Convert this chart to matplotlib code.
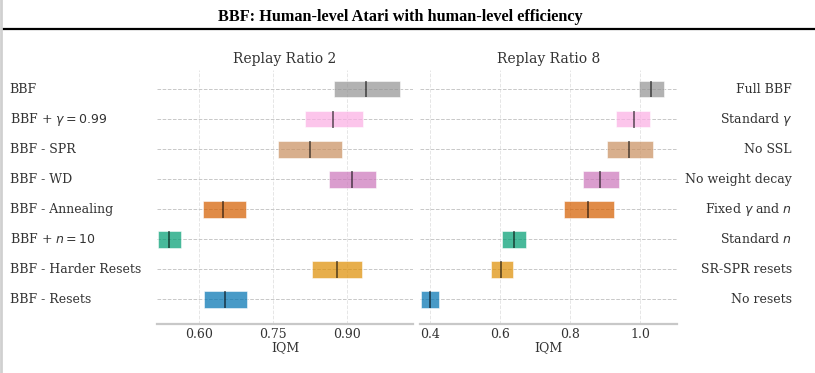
import matplotlib
matplotlib.use("Agg")
import matplotlib.pyplot as plt
import matplotlib.transforms as mtransforms
import numpy as np

# left panel: replay ratio 2
labels_rr2 = ["BBF", r"BBF + $\gamma = 0.99$", "BBF - SPR", "BBF - WD",
              "BBF - Annealing", r"BBF + $n = 10$", "BBF - Harder Resets", "BBF - Resets"]
rr2_lo = [0.875, 0.816, 0.761, 0.864, 0.609, 0.517, 0.830, 0.611]
rr2_hi = [1.009, 0.933, 0.890, 0.959, 0.695, 0.563, 0.930, 0.697]
rr2_iqm = [0.939, 0.872, 0.826, 0.910, 0.649, 0.540, 0.880, 0.652]
rr2_ticks = [0.60, 0.75, 0.90]

# right panel: replay ratio 8
labels_rr8 = ["Full BBF", r"Standard $\gamma$", "No SSL", "No weight decay",
              r"Fixed $\gamma$ and $n$", r"Standard $n$", "SR-SPR resets", "No resets"]
rr8_lo = [0.998, 0.932, 0.906, 0.837, 0.781, 0.606, 0.573, 0.374]
rr8_hi = [1.068, 1.030, 1.037, 0.939, 0.927, 0.674, 0.636, 0.424]
rr8_iqm = [1.032, 0.982, 0.968, 0.885, 0.851, 0.639, 0.603, 0.398]
rr8_ticks = [0.4, 0.6, 0.8, 1.0]

colors = ["#949494", "#fbafe4", "#ca9161", "#cc78bc",
          "#d55e00", "#029e73", "#de8f05", "#0173b2"]

plt.rcParams["font.family"] = "DejaVu Serif"

fig = plt.figure(figsize=(8.15, 3.73), dpi=100)
W, H = 815, 373

# page header
fig.text(400 / W, 1 - 17 / H, "BBF: Human-level Atari with human-level efficiency",
         ha="center", va="center", fontsize=11.7, fontweight="bold",
         family="Liberation Serif")
fig.add_artist(plt.Line2D([3 / W, 1], [1 - 29 / H, 1 - 29 / H], color="black", lw=1.6))
fig.add_artist(plt.Line2D([1 / W, 1 / W], [0, 1], color="#d0d0d0", lw=2))


def panel(rect, title, lo, hi, iqm, ticks, xlim):
    ax = fig.add_axes(rect)
    y = np.arange(len(lo))
    h = 0.55
    lo = np.array(lo)
    hi = np.array(hi)
    ax.barh(y, hi - lo, left=lo, height=h, color=colors, alpha=0.72,
            edgecolor="white", linewidth=0.5, zorder=3)
    ax.vlines(iqm, y - 7.5 * h / 16 * 1.07, y + 7.5 * h / 16 * 1.07,
              color="k", alpha=0.6, lw=1.2, zorder=4)
    for yy in y:
        ax.axhline(yy, color="#c8c8c8", ls="--", lw=0.7, zorder=1)
    for t in ticks:
        ax.axvline(t, color="#e6e6e6", ls="--", lw=0.7, zorder=0)
    ax.set_xlim(*xlim)
    ax.set_ylim(7.82, -0.64)
    ax.set_yticks([])
    ax.set_xticks(ticks)
    ax.set_xticklabels([("%.2f" if len(ticks) == 3 else "%.1f") % t for t in ticks])
    ax.tick_params(axis="x", length=0, pad=3, labelsize=9, labelcolor="#333333")
    for s in ["top", "left", "right"]:
        ax.spines[s].set_visible(False)
    ax.spines["bottom"].set_color("#c8c8c8")
    ax.spines["bottom"].set_linewidth(1.6)
    ax.set_xlabel("IQM", fontsize=9, color="#333333", labelpad=0)
    ax.set_title(title, fontsize=10, color="#333333", pad=5)
    return ax


top = 70
bot = 324
ax1 = panel([157 / W, 1 - bot / H, 256 / W, (bot - top) / H], "Replay Ratio 2",
            rr2_lo, rr2_hi, rr2_iqm, rr2_ticks, (0.515, 1.0345))
ax2 = panel([420 / W, 1 - bot / H, 257 / W, (bot - top) / H], "Replay Ratio 8",
            rr8_lo, rr8_hi, rr8_iqm, rr8_ticks, (0.370, 1.106))

tr1 = mtransforms.blended_transform_factory(fig.transFigure, ax1.transData)
for i, lab in enumerate(labels_rr2):
    ax1.text(9.5 / W, i, lab, transform=tr1, ha="left", va="center",
             fontsize=9, color="#333333")
tr2 = mtransforms.blended_transform_factory(fig.transFigure, ax2.transData)
for i, lab in enumerate(labels_rr8):
    ax2.text(792 / W, i, lab, transform=tr2, ha="right", va="center",
             fontsize=9, color="#333333")

fig.savefig("out.png", dpi=100)
